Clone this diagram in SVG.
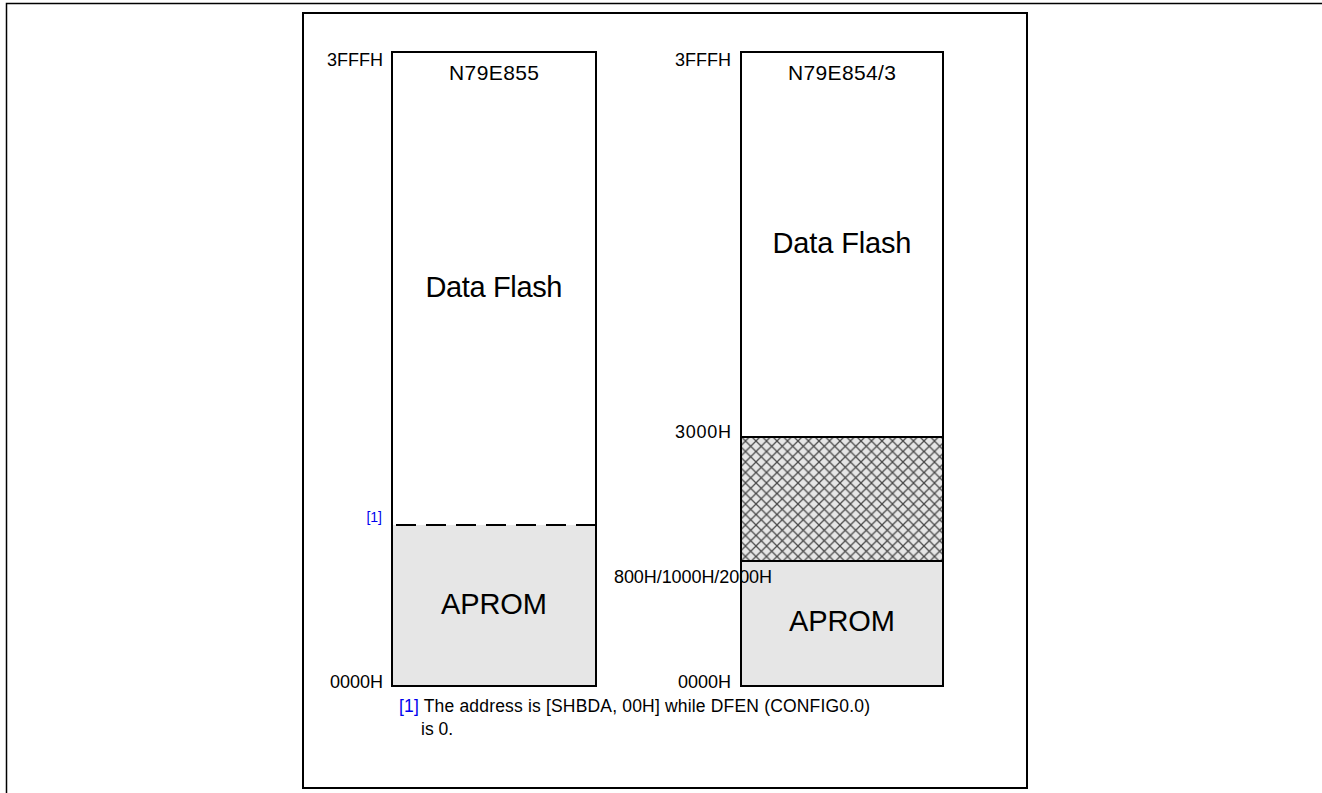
<svg xmlns="http://www.w3.org/2000/svg" width="1322" height="793" viewBox="0 0 1322 793">
<style>
.t{font-family:"Liberation Sans",Arial,sans-serif;fill:#000}
.a{font-size:18px}
.big{font-size:29px}
.ttl{font-size:21px}
.fn{font-size:17.5px}
.box{fill:none;stroke:#000;stroke-width:2}
.gray{fill:#e6e6e6}
.blue{fill:#0000ee}
</style>
<defs>
<pattern id="hatch" patternUnits="userSpaceOnUse" width="10.5" height="10.5">
<rect width="10.5" height="10.5" fill="#e6e6e6"/>
<path d="M0,0 L10.5,10.5 M10.5,0 L0,10.5" stroke="#4a4a4a" stroke-width="1.3"/>
</pattern>
</defs>
<rect width="1322" height="793" fill="#fff"/>
<path d="M6.5,793 V3.5 H1322" fill="none" stroke="#000" stroke-width="1.5"/>
<rect x="303" y="13" width="724" height="775" fill="none" stroke="#000" stroke-width="2"/>

<g id="left-map">
<rect x="392" y="525" width="204" height="161" class="gray"/>
<rect x="392" y="52" width="204" height="634" class="box"/>
<line x1="393" y1="525" x2="595" y2="525" stroke="#000" stroke-width="2" stroke-dasharray="20,10" stroke-dashoffset="-3"/>
<text class="t ttl" x="494" y="80" text-anchor="middle" textLength="90">N79E855</text>
<text class="t big" x="494" y="297" text-anchor="middle" textLength="137">Data Flash</text>
<text class="t big" x="494" y="614" text-anchor="middle" textLength="106">APROM</text>
<text class="t a" x="383" y="66" text-anchor="end" textLength="56">3FFFH</text>
<text class="t a" x="383" y="688" text-anchor="end" textLength="53">0000H</text>
<text class="t blue" x="382" y="522" text-anchor="end" font-size="14">[1]</text>
</g>

<g id="right-map">
<rect x="741" y="561" width="202" height="125" class="gray"/>
<rect x="741" y="437" width="202" height="124" fill="url(#hatch)"/>
<rect x="741" y="52" width="202" height="634" class="box"/>
<line x1="741" y1="437" x2="943" y2="437" stroke="#000" stroke-width="2"/>
<line x1="741" y1="561" x2="943" y2="561" stroke="#000" stroke-width="2"/>
<text class="t ttl" x="842" y="80" text-anchor="middle" textLength="108">N79E854/3</text>
<text class="t big" x="842" y="253" text-anchor="middle" textLength="139">Data Flash</text>
<text class="t big" x="842" y="631" text-anchor="middle" textLength="106">APROM</text>
<text class="t a" x="731" y="66" text-anchor="end" textLength="56">3FFFH</text>
<text class="t a" x="731" y="438" text-anchor="end" textLength="56">3000H</text>
<text class="t a" x="614" y="583" textLength="158">800H/1000H/2000H</text>
<text class="t a" x="731" y="688" text-anchor="end" textLength="53">0000H</text>
</g>

<g id="footnote">
<text class="t fn" x="399" y="712" textLength="471"><tspan class="blue">[1]</tspan> The address is [SHBDA, 00H] while DFEN (CONFIG0.0)</text>
<text class="t fn" x="421" y="735">is 0.</text>
</g>
</svg>
